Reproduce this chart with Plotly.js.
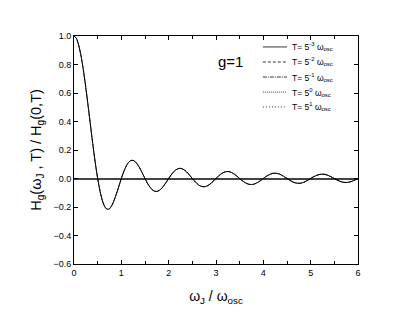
<!DOCTYPE html>
<html>
<head>
<meta charset="utf-8">
<script src="https://cdn.plot.ly/plotly-3.0.1.min.js"></script>
<style>html,body{margin:0;padding:0;background:#fff;}#chart{width:415px;height:318px;}</style>
</head>
<body>
<div id="chart"></div>
<script>
var omegaRatio = [0,0.05,0.1,0.15,0.2,0.25,0.3,0.35,0.4,0.45,0.5,0.55,0.6,0.65,0.7,0.75,0.8,0.85,0.9,0.95,
1,1.05,1.1,1.15,1.2,1.25,1.3,1.35,1.4,1.45,1.5,1.55,1.6,1.65,1.7,1.75,1.8,1.85,1.9,1.95,
2,2.05,2.1,2.15,2.2,2.25,2.3,2.35,2.4,2.45,2.5,2.55,2.6,2.65,2.7,2.75,2.8,2.85,2.9,2.95,
3,3.05,3.1,3.15,3.2,3.25,3.3,3.35,3.4,3.45,3.5,3.55,3.6,3.65,3.7,3.75,3.8,3.85,3.9,3.95,
4,4.05,4.1,4.15,4.2,4.25,4.3,4.35,4.4,4.45,4.5,4.55,4.6,4.65,4.7,4.75,4.8,4.85,4.9,4.95,
5,5.05,5.1,5.15,5.2,5.25,5.3,5.35,5.4,5.45,5.5,5.55,5.6,5.65,5.7,5.75,5.8,5.85,5.9,5.95,6];

var hRatio = [1,0.984,0.935,0.858,0.757,0.637,0.505,0.368,0.234,0.109,0,-0.089,-0.156,-0.198,-0.216,-0.212,-0.189,-0.151,-0.104,-0.052,
0,0.047,0.085,0.112,0.126,0.127,0.116,0.095,0.067,0.034,0,-0.032,-0.058,-0.078,-0.089,-0.091,-0.084,-0.070,-0.049,-0.025,
0,0.024,0.045,0.060,0.069,0.071,0.066,0.055,0.039,0.020,0,-0.019,-0.036,-0.049,-0.056,-0.058,-0.054,-0.045,-0.032,-0.017,
0,0.016,0.030,0.041,0.047,0.049,0.046,0.038,0.028,0.014,0,-0.014,-0.026,-0.035,-0.041,-0.042,-0.040,-0.033,-0.024,-0.012,
0,0.012,0.023,0.031,0.036,0.037,0.035,0.030,0.021,0.011,0,-0.011,-0.020,-0.028,-0.032,-0.034,-0.032,-0.027,-0.019,-0.010,
0,0.010,0.018,0.025,0.029,0.030,0.029,0.024,0.017,0.009,0,-0.009,-0.017,-0.023,-0.027,-0.028,-0.026,-0.022,-0.016,-0.008,0];

var tExponents = ['-3','-2','-1','0','1'];
var dashStyles = ['solid','3px,2px','4px,1px,1px,1px','1px,1px','1px,2px'];

var traces = tExponents.map(function(e, i){
  return {
    x: omegaRatio, y: hRatio, type: 'scatter', mode: 'lines',
    line: {color: '#000', width: i === 0 ? 1 : 0.4, dash: dashStyles[i], shape: 'spline', smoothing: 0.6},
    name: 'T= 5<sup>' + e + '</sup> ω<sub>osc</sub>', showlegend: false
  };
});

var font = 'Arial, "Liberation Sans", sans-serif';

// Legend drawn as paper-positioned keys (layout decoration)
var legendRowsY = [0.952, 0.886, 0.820, 0.754, 0.689];
var shapes = [];
var annotations = [{
  x: 3.3, y: 0.82, xref: 'x', yref: 'y', text: 'g=1', showarrow: false,
  font: {size: 15, family: font, color: '#000'}
}];
tExponents.forEach(function(e, i){
  shapes.push({type: 'line', xref: 'paper', yref: 'paper', x0: 0.665, x1: 0.75,
    y0: legendRowsY[i], y1: legendRowsY[i], line: {color: '#000', width: 0.8, dash: dashStyles[i]}});
  annotations.push({xref: 'paper', yref: 'paper', x: 0.76, y: legendRowsY[i], xanchor: 'left', yanchor: 'middle',
    text: traces[i].name, showarrow: false, font: {size: 8.5, family: font, color: '#000'}});
});

var layout = {
  width: 415, height: 318,
  margin: {l: 74, r: 57, t: 36, b: 54},
  paper_bgcolor: '#fff', plot_bgcolor: '#fff',
  font: {family: font, color: '#000', size: 9},
  showlegend: false,
  xaxis: {
    range: [0, 6], dtick: 1, tick0: 0, showgrid: false, zeroline: false,
    showline: true, linecolor: '#000', linewidth: 1, mirror: 'ticks',
    ticks: 'inside', ticklen: 4, tickcolor: '#000', tickwidth: 1,
    minor: {dtick: 0.5, ticks: 'inside', ticklen: 3, tickcolor: '#000', showgrid: false},
    tickfont: {size: 9, family: font},
    title: {text: 'ω<sub>J</sub> / ω<sub>osc</sub>', font: {size: 14, family: font}, standoff: 14}
  },
  yaxis: {
    range: [-0.6, 1.0], dtick: 0.2, tick0: 0, tickformat: '.1f', showgrid: false,
    zeroline: true, zerolinecolor: '#444', zerolinewidth: 2,
    showline: true, linecolor: '#000', linewidth: 1, mirror: 'ticks',
    ticks: 'inside', ticklen: 4, tickcolor: '#000', tickwidth: 1,
    tickfont: {size: 9, family: font},
    title: {text: 'H<sub>g</sub>(ω<sub>J</sub> , T) / H<sub>g</sub>(0,T)', font: {size: 14.5, family: font}, standoff: 8}
  },
  shapes: shapes,
  annotations: annotations
};

Plotly.newPlot('chart', traces, layout, {displayModeBar: false, staticPlot: true});
</script>
</body>
</html>
